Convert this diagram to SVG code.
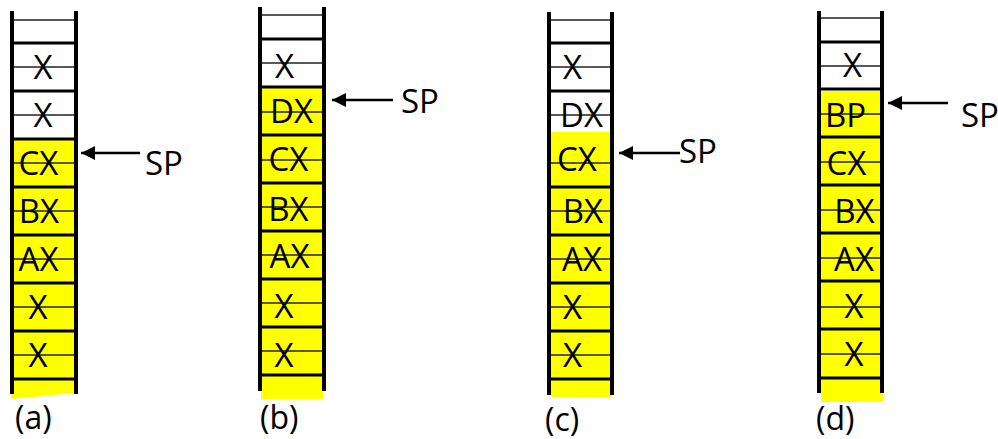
<svg xmlns="http://www.w3.org/2000/svg" width="998" height="439" viewBox="0 0 998 439">
<style>
.bg{fill:#ffffff}
.y{fill:#ffff00;stroke:none}
.rail{stroke:#000;stroke-width:4;fill:none}
.thick{stroke:#000;stroke-width:3;fill:none}
.thin{stroke:#222;stroke-width:1.3;fill:none}
.t{font-family:"Open Sans","Noto Sans","DejaVu Sans",sans-serif;font-size:33px;fill:#000;text-anchor:middle}
.cap{font-family:"Open Sans","Noto Sans","DejaVu Sans",sans-serif;font-size:32px;fill:#000}
.arrow{stroke:#000;stroke-width:2.5;fill:none}
</style>
<defs>
<marker id="ah" markerUnits="userSpaceOnUse" markerWidth="16" markerHeight="16" refX="14" refY="7" orient="auto">
<path d="M0,0 L14,7 L0,14 z" fill="#000"/>
</marker>
</defs>
<rect class="bg" x="0" y="0" width="998" height="439"/>

<g id="stack-a">
<polygon class="y" points="12,140 76,140 75,393 11,399"/>
<g class="thin">
<line x1="14" y1="20" x2="74" y2="20"/><line x1="14" y1="67" x2="74" y2="67"/><line x1="14" y1="115" x2="74" y2="115"/><line x1="14" y1="163" x2="74" y2="163"/><line x1="14" y1="211" x2="74" y2="211"/><line x1="14" y1="259" x2="74" y2="259"/><line x1="14" y1="307" x2="74" y2="307"/><line x1="14" y1="355" x2="74" y2="355"/>
</g>
<g class="thick">
<line x1="12" y1="43" x2="76" y2="43"/><line x1="12" y1="91" x2="76" y2="91"/><line x1="12" y1="139" x2="76" y2="139"/><line x1="12" y1="187" x2="76" y2="187"/><line x1="12" y1="235" x2="76" y2="235"/><line x1="12" y1="283" x2="76" y2="283"/><line x1="12" y1="331" x2="76" y2="331"/><line x1="12" y1="379" x2="76" y2="379"/>
</g>
<line class="rail" x1="12" y1="11" x2="12" y2="394"/><line class="rail" x1="76" y1="11" x2="76" y2="394"/>
<text class="t" x="43" y="79">X</text>
<text class="t" x="43" y="127">X</text>
<text class="t" x="38.5" y="175">CX</text>
<text class="t" x="39" y="223">BX</text>
<text class="t" x="38.5" y="271">AX</text>
<text class="t" x="38" y="319">X</text>
<text class="t" x="38" y="367">X</text>
<text class="cap" x="15" y="429">(a)</text>
</g>

<g id="stack-b">
<rect class="y" x="261" y="88" width="62" height="311"/>
<g class="thin">
<line x1="262" y1="15" x2="322" y2="15"/><line x1="262" y1="63" x2="322" y2="63"/><line x1="262" y1="112" x2="322" y2="112"/><line x1="262" y1="160" x2="322" y2="160"/><line x1="262" y1="207" x2="322" y2="207"/><line x1="262" y1="255" x2="322" y2="255"/><line x1="262" y1="303" x2="322" y2="303"/><line x1="262" y1="351" x2="322" y2="351"/>
</g>
<g class="thick">
<line x1="260" y1="39" x2="324" y2="39"/><line x1="260" y1="87" x2="324" y2="87"/><line x1="260" y1="135" x2="324" y2="135"/><line x1="260" y1="183" x2="324" y2="183"/><line x1="260" y1="231" x2="324" y2="231"/><line x1="260" y1="279" x2="324" y2="279"/><line x1="260" y1="327" x2="324" y2="327"/><line x1="260" y1="375" x2="324" y2="375"/>
</g>
<line class="rail" x1="260" y1="7" x2="260" y2="391"/><line class="rail" x1="324" y1="7" x2="324" y2="391"/>
<text class="t" x="284.5" y="78">X</text>
<text class="t" x="291.5" y="123">DX</text>
<text class="t" x="288.5" y="171">CX</text>
<text class="t" x="288.5" y="221">BX</text>
<text class="t" x="289.5" y="268">AX</text>
<text class="t" x="284" y="318">X</text>
<text class="t" x="284" y="367">X</text>
<text class="cap" x="260" y="429">(b)</text>
</g>

<g id="stack-c">
<rect class="y" x="551" y="141" width="61" height="256"/>
<g class="thin">
<line x1="551" y1="20" x2="610" y2="20"/><line x1="551" y1="67" x2="610" y2="67"/><line x1="551" y1="115" x2="610" y2="115"/><line x1="551" y1="163" x2="610" y2="163"/><line x1="551" y1="211" x2="610" y2="211"/><line x1="551" y1="259" x2="610" y2="259"/><line x1="551" y1="307" x2="610" y2="307"/><line x1="551" y1="355" x2="610" y2="355"/>
</g>
<g class="thick">
<line x1="549" y1="43" x2="612" y2="43"/><line x1="549" y1="91" x2="612" y2="91"/><line x1="549" y1="139" x2="612" y2="139"/><line x1="549" y1="187" x2="612" y2="187"/><line x1="549" y1="235" x2="612" y2="235"/><line x1="549" y1="283" x2="612" y2="283"/><line x1="549" y1="331" x2="612" y2="331"/><line x1="549" y1="379" x2="612" y2="379"/>
</g>
<rect class="y" x="551" y="132" width="61" height="10"/>
<line class="rail" x1="549" y1="12" x2="549" y2="395"/><line class="rail" x1="612" y1="12" x2="612" y2="395"/>
<text class="t" x="572.5" y="79">X</text>
<text class="t" x="581.5" y="127">DX</text>
<text class="t" x="577" y="171">CX</text>
<text class="t" x="583" y="223">BX</text>
<text class="t" x="582" y="271">AX</text>
<text class="t" x="572.5" y="319">X</text>
<text class="t" x="572.5" y="367">X</text>
<text class="cap" x="545" y="431">(c)</text>
</g>

<g id="stack-d">
<rect class="y" x="821" y="91" width="62" height="311"/>
<g class="thin">
<line x1="821" y1="18" x2="880" y2="18"/><line x1="821" y1="66" x2="880" y2="66"/><line x1="821" y1="114" x2="880" y2="114"/><line x1="821" y1="162" x2="880" y2="162"/><line x1="821" y1="210" x2="880" y2="210"/><line x1="821" y1="258" x2="880" y2="258"/><line x1="821" y1="307" x2="880" y2="307"/><line x1="821" y1="354" x2="880" y2="354"/>
</g>
<g class="thick">
<line x1="819" y1="42" x2="882" y2="42"/><line x1="819" y1="89" x2="882" y2="89"/><line x1="819" y1="137" x2="882" y2="137"/><line x1="819" y1="185" x2="882" y2="185"/><line x1="819" y1="233" x2="882" y2="233"/><line x1="819" y1="281" x2="882" y2="281"/><line x1="819" y1="329" x2="882" y2="329"/><line x1="819" y1="378" x2="882" y2="378"/>
</g>
<line class="rail" x1="819" y1="11" x2="819" y2="393"/><line class="rail" x1="882" y1="11" x2="882" y2="393"/>
<text class="t" x="852.5" y="77">X</text>
<text class="t" x="845.5" y="127">BP</text>
<text class="t" x="846.5" y="175">CX</text>
<text class="t" x="854.5" y="223">BX</text>
<text class="t" x="854" y="271">AX</text>
<text class="t" x="854" y="318">X</text>
<text class="t" x="854" y="366">X</text>
<text class="cap" x="816" y="430">(d)</text>
</g>

<g id="sp-labels">
<text class="cap" x="145" y="175" style="font-size:33px">SP</text>
<text class="cap" x="401" y="113" style="font-size:33px">SP</text>
<text class="cap" x="679" y="163" style="font-size:33px">SP</text>
<text class="cap" x="961" y="127" style="font-size:33px">SP</text>
</g>

<g id="connectors">
<line class="arrow" x1="140" y1="153" x2="81" y2="153" marker-end="url(#ah)"/>
<line class="arrow" x1="393" y1="100" x2="332" y2="100" marker-end="url(#ah)"/>
<line class="arrow" x1="680" y1="153" x2="619" y2="153" marker-end="url(#ah)"/>
<line class="arrow" x1="948" y1="103" x2="888" y2="103" marker-end="url(#ah)"/>
</g>
</svg>
